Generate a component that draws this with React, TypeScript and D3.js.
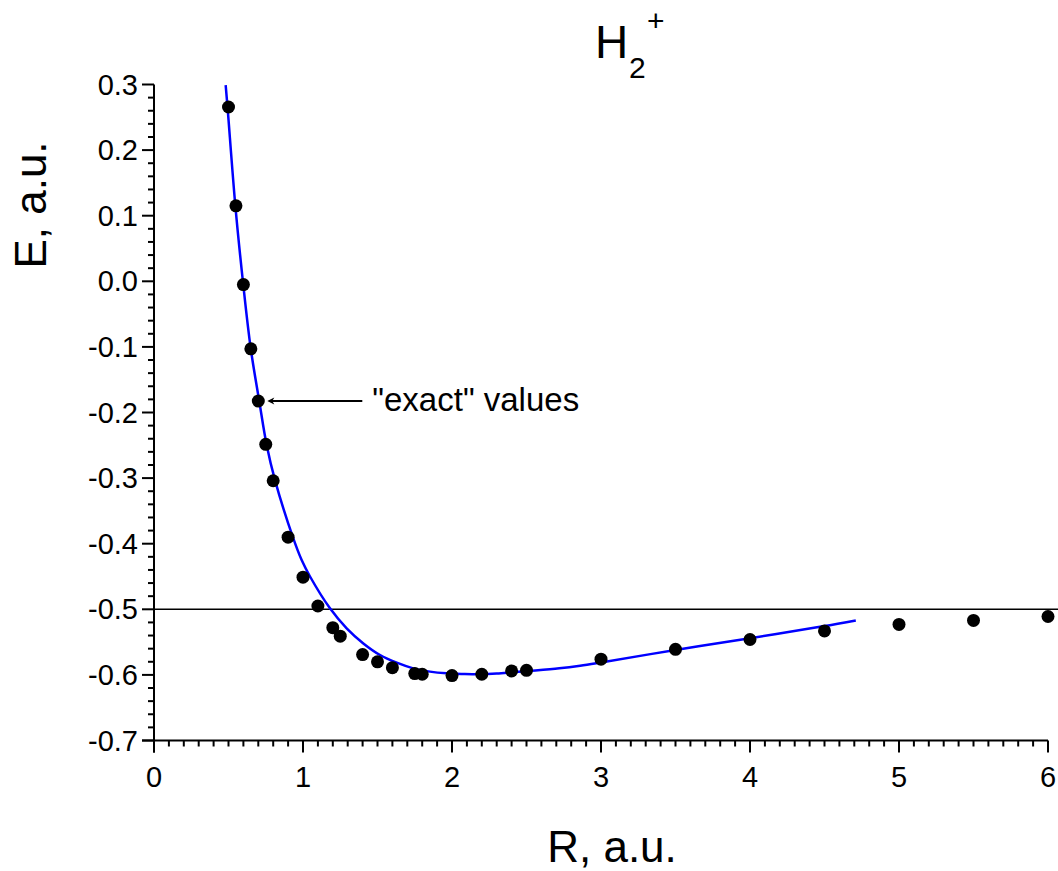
import React from "react";
import * as d3 from "d3";

// "exact" values (R, E)
const exactR = [0.5, 0.55, 0.6, 0.65, 0.7, 0.75, 0.8, 0.9, 1.0, 1.1, 1.2, 1.25, 1.4, 1.5, 1.6, 1.75, 1.8, 2.0, 2.2, 2.4, 2.5, 3.0, 3.5, 4.0, 4.5, 5.0, 5.5, 6.0];
const exactE = [0.2657, 0.115, -0.005, -0.103, -0.1825, -0.2485, -0.304, -0.39, -0.451, -0.495, -0.528, -0.541, -0.569, -0.58, -0.589, -0.598, -0.599, -0.601, -0.599, -0.594, -0.593, -0.576, -0.561, -0.546, -0.533, -0.523, -0.517, -0.511];

// fitted / model curve (R, E)
const curveR = [0.481, 0.494, 0.546, 0.599, 0.649, 0.707, 0.756, 0.812, 0.935, 0.991, 1.047, 1.181, 1.293, 1.405, 1.517, 1.629, 1.74, 1.852, 1.964, 2.076, 2.188, 2.3, 2.41, 2.52, 2.72, 2.86, 3.0, 3.5, 4.0, 4.49, 4.71];
const curveE = [0.299, 0.264, 0.115, -0.005, -0.102, -0.1835, -0.2495, -0.303, -0.392, -0.425, -0.45, -0.4985, -0.529, -0.552, -0.5697, -0.5814, -0.59, -0.595, -0.5976, -0.5986, -0.599, -0.598, -0.596, -0.594, -0.59, -0.586, -0.581, -0.562, -0.544, -0.526, -0.517];

const xTickValues = [0, 1, 2, 3, 4, 5, 6];
const xTickLabels = ["0", "1", "2", "3", "4", "5", "6"];
const yTickValues = [0.3, 0.2, 0.1, 0.0, -0.1, -0.2, -0.3, -0.4, -0.5, -0.6, -0.7];
const yTickLabels = ["0.3", "0.2", "0.1", "0.0", "-0.1", "-0.2", "-0.3", "-0.4", "-0.5", "-0.6", "-0.7"];
const referenceLevel = -0.5;
const annotatedR = 0.7;
const annotatedE = -0.1825;
const annotationText = '"exact" values';

const W = 1058;
const H = 871;
const FONT = "'Liberation Sans', Arial, Helvetica, sans-serif";

export default function App() {
  const x = d3.scaleLinear().domain([0, 6]).range([154, 1048]);
  const y = d3.scaleLinear().domain([-0.7, 0.3]).range([740.5, 84.5]);

  const xMinor = d3.range(0, 61).map((i) => i / 10).filter((v) => Math.abs(v - Math.round(v)) > 1e-6);
  const yMinor = d3.range(-35, 16).map((i) => i / 50).filter((v) => Math.abs(v * 10 - Math.round(v * 10)) > 1e-6);

  const curvePts: [number, number][] = curveR.map((r, i) => [r, curveE[i]]);
  const line = d3
    .line<[number, number]>()
    .x((d) => x(d[0]))
    .y((d) => y(d[1]))
    .curve(d3.curveCatmullRom.alpha(0.5));

  const x0 = x(0);
  const yB = y(-0.7);

  const ax = x(annotatedR);
  const ay = y(annotatedE);
  const tipX = ax + 9;
  const lineEnd = tipX + 95;

  return (
    <svg
      width={W}
      height={H}
      style={{ position: "absolute", left: 0, top: 0, background: "#fff" }}
      fontFamily={FONT}
    >
      <rect x={0} y={0} width={W} height={H} fill="#fff" />

      {/* reference line */}
      <line x1={x0} x2={W} y1={y(referenceLevel)} y2={y(referenceLevel)} stroke="#000" strokeWidth={1.6} />

      {/* axes */}
      <line x1={x0} x2={x0} y1={y(0.3)} y2={yB + 12} stroke="#000" strokeWidth={2} />
      <line x1={x0 - 12} x2={x(6)} y1={yB} y2={yB} stroke="#000" strokeWidth={2} />

      {/* x ticks */}
      {xMinor.map((v) => (
        <line key={"xm" + v} x1={x(v)} x2={x(v)} y1={yB} y2={yB + 6} stroke="#000" strokeWidth={2} />
      ))}
      {xTickValues.map((v, i) => (
        <g key={"xt" + v}>
          <line x1={x(v)} x2={x(v)} y1={yB} y2={yB + 12} stroke="#000" strokeWidth={2} />
          <text x={x(v)} y={787} fontSize={29} textAnchor="middle" fill="#000">
            {xTickLabels[i]}
          </text>
        </g>
      ))}

      {/* y ticks */}
      {yMinor.map((v) => (
        <line key={"ym" + v} x1={x0 - 6} x2={x0} y1={y(v)} y2={y(v)} stroke="#000" strokeWidth={2} />
      ))}
      {yTickValues.map((v, i) => (
        <g key={"yt" + v}>
          <line x1={x0 - 12} x2={x0} y1={y(v)} y2={y(v)} stroke="#000" strokeWidth={2} />
          <text x={138} y={y(v) + 10} fontSize={29} textAnchor="end" fill="#000">
            {yTickLabels[i]}
          </text>
        </g>
      ))}

      {/* model curve */}
      <path d={line(curvePts) || ""} fill="none" stroke="#0000ff" strokeWidth={2.5} />

      {/* exact points */}
      {exactR.map((r, i) => (
        <circle key={"p" + r} cx={x(r)} cy={y(exactE[i])} r={6.5} fill="#000" />
      ))}

      {/* annotation */}
      <line x1={tipX + 4} x2={lineEnd} y1={ay} y2={ay} stroke="#000" strokeWidth={1.8} />
      <path d={`M${tipX},${ay} L${tipX + 7},${ay - 3.5} L${tipX + 5},${ay} L${tipX + 7},${ay + 3.5} Z`} fill="#000" />
      <text x={lineEnd + 10} y={ay + 10} fontSize={33} fill="#000">
        {annotationText}
      </text>

      {/* title */}
      <text x={595} y={58} fontSize={46} fill="#000">H</text>
      <text x={629} y={78} fontSize={30} fill="#000">2</text>
      <text x={647} y={31} fontSize={30} fill="#000">+</text>

      {/* axis titles */}
      <text x={612} y={862} fontSize={44} textAnchor="middle" fill="#000">
        R, a.u.
      </text>
      <text
        transform={`translate(46,205) rotate(-90)`}
        fontSize={44}
        textAnchor="middle"
        fill="#000"
      >
        E, a.u.
      </text>
    </svg>
  );
}
